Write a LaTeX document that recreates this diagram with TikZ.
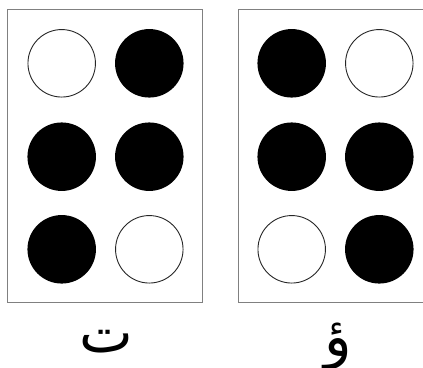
\documentclass[tikz,border=0pt]{standalone}
\usepackage{fontspec}
\newfontfamily\arabicfont[Script=Arabic]{DejaVu Sans}
\TeXXeTstate=1

\begin{document}
\begin{tikzpicture}[x=1pt,y=-1pt,
    cellbox/.style={draw=gray,line width=0.9pt,minimum width=195pt,minimum height=293pt,inner sep=0pt},
    dotopen/.style={circle,draw=black!85,line width=0.9pt,fill=white,minimum size=67.5pt,inner sep=0pt},
    dotfull/.style={circle,fill=black,minimum size=68.5pt,inner sep=0pt},
    letter/.style={font=\arabicfont\fontsize{57}{60}\selectfont,inner sep=0pt,anchor=base}]
  \useasboundingbox (0,0) rectangle (423,367);
  % two braille cells
  \node[cellbox] (ta)  at (105.2,156.3) {};
  \node[cellbox] (waw) at (335.5,156.3) {};
  % left cell
  \node[dotopen] (ta1) at (61.7,63.3)  {};
  \node[dotfull] (ta2) at (61.7,156.7) {};
  \node[dotfull] (ta3) at (61.7,249.3) {};
  \node[dotfull] (ta4) at (149.3,63.3)  {};
  \node[dotfull] (ta5) at (149.3,156.7) {};
  \node[dotopen] (ta6) at (149.3,249.3) {};
  % right cell
  \node[dotfull] (waw1) at (291.7,63.3)  {};
  \node[dotfull] (waw2) at (291.7,156.7) {};
  \node[dotopen] (waw3) at (291.7,249.3) {};
  \node[dotopen] (waw4) at (379.3,63.3)  {};
  \node[dotfull] (waw5) at (379.3,156.7) {};
  \node[dotfull] (waw6) at (379.3,249.3) {};
  % letters
  \node[letter] (lta)  at (106.7,352) {\beginR ت\endR};
  \node[letter] (lwaw) at (338,356)   {\beginR ؤ\endR};
\end{tikzpicture}
\end{document}
